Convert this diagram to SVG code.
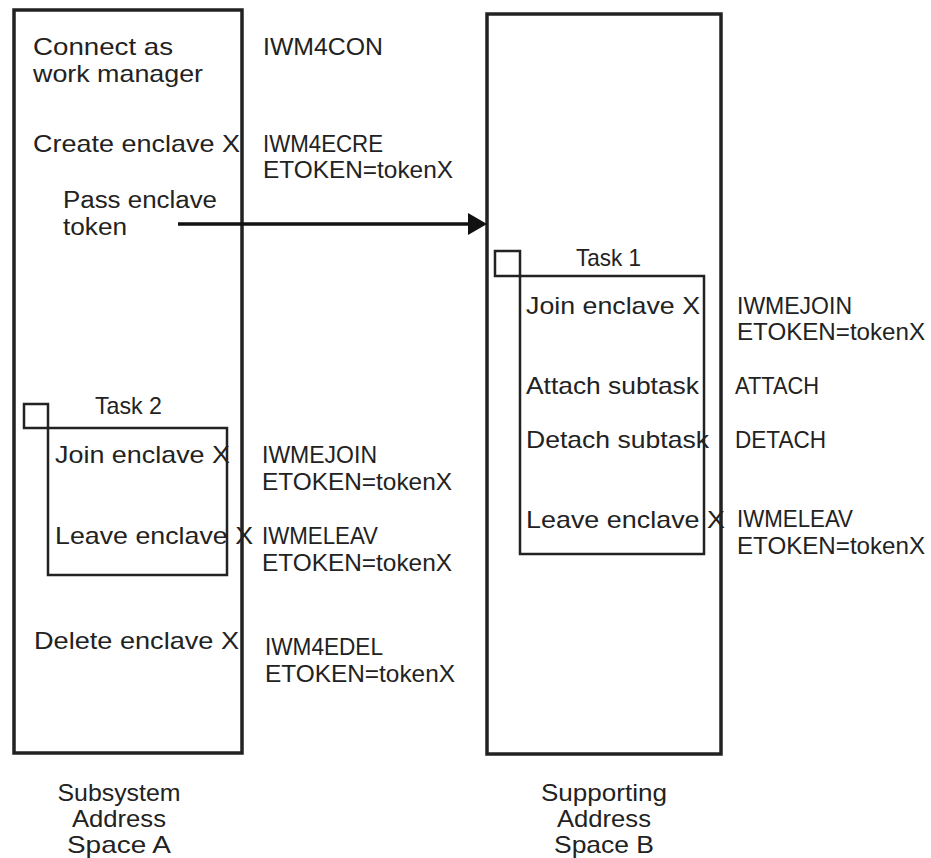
<svg xmlns="http://www.w3.org/2000/svg" width="931" height="858" viewBox="0 0 931 858">
<defs>
<style>
text{font-family:"Liberation Sans",Arial,sans-serif;font-size:24px;fill:#222}
.mid{text-anchor:middle}
.tight{font-size:23px}
.space{fill:none;stroke:#222;stroke-width:3.5}
.task{fill:none;stroke:#222;stroke-width:2.5}
.conn{stroke:#111;stroke-width:3.5;fill:none}
</style>
</defs>
<rect width="931" height="858" fill="#fff"/>

<g id="spaceA">
<rect class="space" x="14" y="10" width="228" height="743"/>
<text x="33" y="55" textLength="140" lengthAdjust="spacingAndGlyphs">Connect as</text>
<text x="33" y="82" textLength="170" lengthAdjust="spacingAndGlyphs">work manager</text>
<text x="263" y="55" textLength="120" lengthAdjust="spacingAndGlyphs">IWM4CON</text>
<text x="33" y="152" textLength="207" lengthAdjust="spacingAndGlyphs">Create enclave X</text>
<text x="263" y="152" textLength="120" lengthAdjust="spacingAndGlyphs">IWM4ECRE</text>
<text x="263" y="178" textLength="190" lengthAdjust="spacingAndGlyphs">ETOKEN=tokenX</text>
<text class="tight" x="63" y="208" textLength="154" lengthAdjust="spacingAndGlyphs">Pass enclave</text>
<text class="tight" x="63" y="235" textLength="64" lengthAdjust="spacingAndGlyphs">token</text>
<text x="34" y="649" textLength="205" lengthAdjust="spacingAndGlyphs">Delete enclave X</text>
<text x="265" y="655" textLength="118" lengthAdjust="spacingAndGlyphs">IWM4EDEL</text>
<text x="265" y="682" textLength="190" lengthAdjust="spacingAndGlyphs">ETOKEN=tokenX</text>
<text class="mid" x="119" y="801" textLength="123" lengthAdjust="spacingAndGlyphs">Subsystem</text>
<text class="mid" x="119" y="827" textLength="94" lengthAdjust="spacingAndGlyphs">Address</text>
<text class="mid" x="119" y="853" textLength="104" lengthAdjust="spacingAndGlyphs">Space A</text>
</g>

<g id="task2">
<rect class="task" x="24" y="404" width="24" height="24"/>
<rect class="task" x="48" y="428" width="179" height="147"/>
<text x="95" y="414" textLength="67" lengthAdjust="spacingAndGlyphs">Task 2</text>
<text x="55" y="463" textLength="175" lengthAdjust="spacingAndGlyphs">Join enclave X</text>
<text x="262" y="463" textLength="115" lengthAdjust="spacingAndGlyphs">IWMEJOIN</text>
<text x="262" y="490" textLength="190" lengthAdjust="spacingAndGlyphs">ETOKEN=tokenX</text>
<text x="55" y="544" textLength="198" lengthAdjust="spacingAndGlyphs">Leave enclave X</text>
<text x="262" y="544" textLength="116" lengthAdjust="spacingAndGlyphs">IWMELEAV</text>
<text x="262" y="571" textLength="190" lengthAdjust="spacingAndGlyphs">ETOKEN=tokenX</text>
</g>

<g id="spaceB">
<rect class="space" x="487" y="14" width="234" height="740"/>
<text class="mid" x="604" y="801" textLength="126" lengthAdjust="spacingAndGlyphs">Supporting</text>
<text class="mid" x="604" y="827" textLength="94" lengthAdjust="spacingAndGlyphs">Address</text>
<text class="mid" x="604" y="853" textLength="100" lengthAdjust="spacingAndGlyphs">Space B</text>
</g>

<g id="task1">
<rect class="task" x="495" y="251" width="25" height="25"/>
<rect class="task" x="520" y="276" width="184" height="278"/>
<text x="576" y="266" textLength="65" lengthAdjust="spacingAndGlyphs">Task 1</text>
<text x="526" y="314" textLength="174" lengthAdjust="spacingAndGlyphs">Join enclave X</text>
<text x="737" y="314" textLength="115" lengthAdjust="spacingAndGlyphs">IWMEJOIN</text>
<text x="737" y="340" textLength="188" lengthAdjust="spacingAndGlyphs">ETOKEN=tokenX</text>
<text x="526" y="394" textLength="173" lengthAdjust="spacingAndGlyphs">Attach subtask</text>
<text x="735" y="394" textLength="84" lengthAdjust="spacingAndGlyphs">ATTACH</text>
<text x="526" y="448" textLength="183" lengthAdjust="spacingAndGlyphs">Detach subtask</text>
<text x="735" y="448" textLength="91" lengthAdjust="spacingAndGlyphs">DETACH</text>
<text x="526" y="528" textLength="199" lengthAdjust="spacingAndGlyphs">Leave enclave X</text>
<text x="737" y="527" textLength="116" lengthAdjust="spacingAndGlyphs">IWMELEAV</text>
<text x="737" y="554" textLength="188" lengthAdjust="spacingAndGlyphs">ETOKEN=tokenX</text>
</g>

<g id="connectors">
<line class="conn" x1="178" y1="224" x2="470" y2="224"/>
<polygon points="468,213 487,224 468,235" fill="#111"/>
</g>
</svg>
